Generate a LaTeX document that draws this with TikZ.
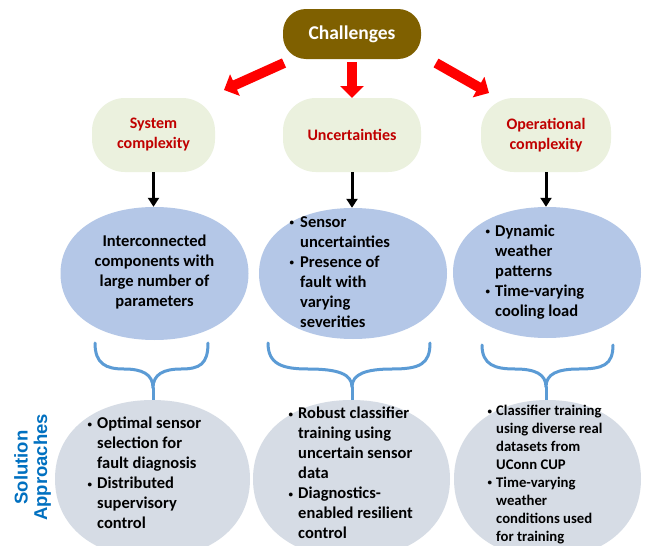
\documentclass[tikz,border=0pt]{standalone}
\usepackage{fontspec}
\setmainfont{Carlito}
\newfontfamily\arialfont{Liberation Sans}
\usetikzlibrary{arrows.meta}

\definecolor{chbrown}{HTML}{7F6000}
\definecolor{palegreen}{HTML}{EBF1DE}
\definecolor{darkred}{HTML}{C00000}
\definecolor{brightred}{HTML}{FF0000}
\definecolor{midblue}{HTML}{B4C7E7}
\definecolor{greyblue}{HTML}{D6DCE5}
\definecolor{bracecol}{HTML}{5B9BD5}
\definecolor{titleblue}{HTML}{0070C0}

% bullet line and continuation line inside left-aligned text blocks
\newcommand\bitem[1][10pt]{\makebox[#1][l]{\hspace{0.5pt}\raisebox{1.6pt}{\fontsize{9}{9}\selectfont\textbullet}}}
\newcommand\bcont[1][10pt]{\hspace*{#1}}

% a slightly squared oval: centre x, centre y, half width, half height, fill, name
\newcommand\softoval[6]{%
  \fill[#5] (#1+#3,#2)
    .. controls (#1+#3,#2+0.6*#4) and (#1+0.6*#3,#2+#4) .. (#1,#2+#4)
    .. controls (#1-0.6*#3,#2+#4) and (#1-#3,#2+0.6*#4) .. (#1-#3,#2)
    .. controls (#1-#3,#2-0.6*#4) and (#1-0.6*#3,#2-#4) .. (#1,#2-#4)
    .. controls (#1+0.6*#3,#2-#4) and (#1+#3,#2-0.6*#4) .. (#1+#3,#2) -- cycle;
  \node[inner sep=0pt, minimum width={2*#3pt}, minimum height={2*#4pt}] (#6) at (#1,#2) {};%
}

\tikzset{
  topbox/.style={draw=none, fill=chbrown, rounded corners=23pt,
    minimum width=138pt, minimum height=50pt, inner sep=0pt,
    text=white, font=\bfseries\fontsize{19.5}{23}\selectfont},
  catbox/.style={draw=none, fill=palegreen, rounded corners=33pt,
    minimum height=74pt, inner sep=0pt, align=center,
    text=darkred, font=\bfseries\fontsize{16}{20}\selectfont},
  bodytext/.style={inner sep=0pt, text=black,
    font=\bfseries\fontsize{16.5}{20}\selectfont},
  smalltext/.style={inner sep=0pt, text=black,
    font=\bfseries\fontsize{14.7}{17.9}\selectfont},
  redarrow/.style={draw=brightred, line width=10pt,
    -{Triangle[width=23pt,length=12pt]}},
  blackarrow/.style={draw=black, line width=3pt,
    -{Triangle[width=11pt,length=9pt]}},
  bracket/.style={draw=bracecol, line width=3pt, line cap=round, line join=round},
}

\begin{document}
\begin{tikzpicture}[x=1pt,y=-1pt]
  \useasboundingbox (0,0) rectangle (649,546);
  \clip (0,0) rectangle (649,546);
  \fill[white] (0,0) rectangle (649,546);

  % top node and the three challenge categories
  \node[topbox] (ch) at (352,34) {Challenges};
  \node[catbox, minimum width=123pt] (g1) at (153.5,135) {System\\complexity};
  \node[catbox, minimum width=138pt] (g2) at (352,135) {Uncertainties};
  \node[catbox, minimum width=130pt] (g3) at (546,135) {Operational\\complexity};

  % thick red arrows from the top node
  \coordinate (r1s) at (284,63);  \coordinate (r1e) at (224,90);
  \coordinate (r2s) at (352,62);  \coordinate (r2e) at (352,98);
  \coordinate (r3s) at (436,63);  \coordinate (r3e) at (489,93);
  \draw[redarrow] (r1s) -- (r1e);
  \draw[redarrow] (r2s) -- (r2e);
  \draw[redarrow] (r3s) -- (r3e);

  % descriptions of each challenge
  \softoval{154.5}{273.5}{94}{66.5}{midblue}{e1}
  \softoval{353}{273.5}{94}{65.5}{midblue}{e2}
  \softoval{547}{272.5}{94}{65.5}{midblue}{e3}

  \draw[blackarrow] (g1.south) -- (g1.south |- e1.north);
  \draw[blackarrow] (g2.south) -- (g2.south |- e2.north);
  \draw[blackarrow] (g3.south) -- (g3.south |- e3.north);

  \node[bodytext, align=center] (t1) at (154.5,272)
    {Interconnected\\components with\\large number of\\parameters};
  \node[bodytext, align=left, anchor=west] (t2) at (289,272)
    {\bitem[11pt]Sensor\\\bcont[11pt]uncertainties\\\bitem[11pt]Presence of\\
     \bcont[11pt]fault with\\\bcont[11pt]varying\\\bcont[11pt]severities};
  \node[bodytext, align=left, anchor=west] (t3) at (485,272)
    {\bitem Dynamic\\\bcont weather\\\bcont patterns\\\bitem Time-varying\\
     \bcont cooling load};

  % curly brackets gathering each column
  \draw[bracket] (95,343) .. controls (95,364) and (106,369) .. (124,369)
    .. controls (142,369) and (153,374) .. (153,388)
    .. controls (153,374) and (164,369) .. (181,369)
    .. controls (200,369) and (208,364) .. (208,343);
  \draw[bracket] (153,388) -- (153,401);

  \draw[bracket] (268,343) .. controls (268,364) and (282,369) .. (308,369)
    .. controls (338,369) and (352,374) .. (352,387)
    .. controls (352,374) and (366,369) .. (392,369)
    .. controls (420,369) and (430,364) .. (430,343);
  \draw[bracket] (352,387) -- (352,401);

  \draw[bracket] (482,345) .. controls (482,365) and (495,369) .. (515,369)
    .. controls (535,369) and (546,374) .. (546,387)
    .. controls (546,374) and (557,369) .. (579,369)
    .. controls (603,369) and (613,365) .. (613,345);
  \draw[bracket] (546,387) -- (546,401);

  % solution approaches
  \softoval{152.5}{479}{97.5}{79}{greyblue}{b1}
  \softoval{351.5}{479}{98.5}{79}{greyblue}{b2}
  \softoval{547.5}{479}{93.5}{79}{greyblue}{b3}

  \node[bodytext, align=left, anchor=west] (s1) at (87,473)
    {\bitem Optimal sensor\\\bcont selection for\\\bcont fault diagnosis\\
     \bitem Distributed\\\bcont supervisory\\\bcont control};
  \node[bodytext, align=left, anchor=west] (s2) at (288,473)
    {\bitem Robust classifier\\\bcont training using\\\bcont uncertain sensor\\
     \bcont data\\\bitem Diagnostics-\\\bcont enabled resilient\\\bcont control};
  \node[smalltext, align=left, anchor=west] (s3) at (487,474.5)
    {\bitem[9pt]Classifier training\\\bcont[9pt]using diverse real\\
     \bcont[9pt]datasets from\\\bcont[9pt]UConn CUP\\\bitem[9pt]Time-varying\\
     \bcont[9pt]weather\\\bcont[9pt]conditions used\\\bcont[9pt]for training};

  \node[rotate=90, align=center, inner sep=0pt, text=titleblue,
    font=\arialfont\bfseries\fontsize{18.5}{19.5}\selectfont]
    (sa) at (32.5,467.5) {Solution\\Approaches};
\end{tikzpicture}
\end{document}
